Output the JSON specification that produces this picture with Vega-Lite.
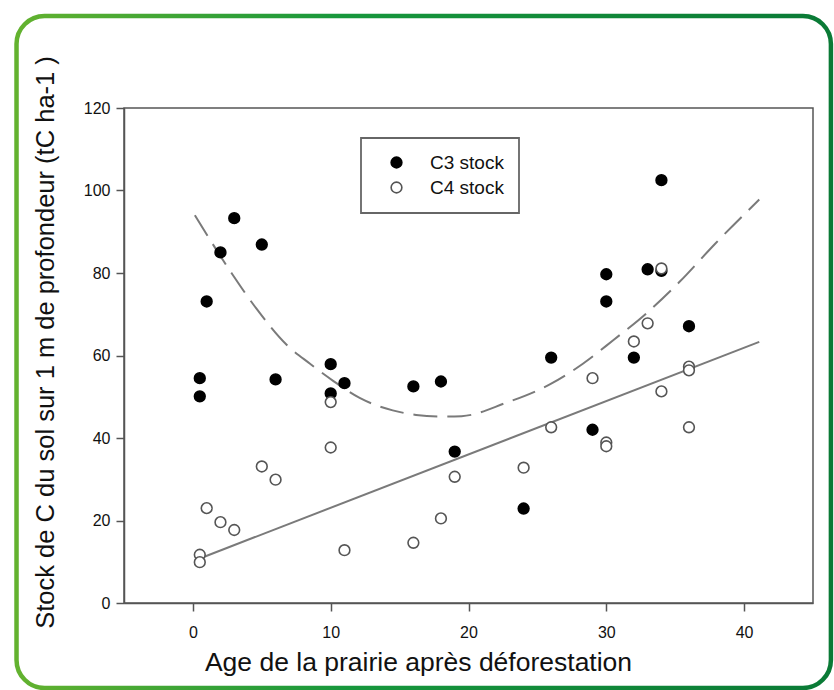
{
  "$schema": "https://vega.github.io/schema/vega-lite/v6.json",
  "width": 689,
  "height": 495,
  "autosize": "none",
  "padding": {"left": 124, "top": 108, "right": 21, "bottom": 87},
  "background": "white",
  "datasets": {
    "stocks": [
      {"age": 0.5, "stock": 54.5, "type": "C3 stock"},
      {"age": 0.5, "stock": 50.1, "type": "C3 stock"},
      {"age": 1, "stock": 73.1, "type": "C3 stock"},
      {"age": 2, "stock": 85.0, "type": "C3 stock"},
      {"age": 3, "stock": 93.3, "type": "C3 stock"},
      {"age": 5, "stock": 86.9, "type": "C3 stock"},
      {"age": 6, "stock": 54.2, "type": "C3 stock"},
      {"age": 10, "stock": 57.9, "type": "C3 stock"},
      {"age": 10, "stock": 50.8, "type": "C3 stock"},
      {"age": 11, "stock": 53.3, "type": "C3 stock"},
      {"age": 16, "stock": 52.5, "type": "C3 stock"},
      {"age": 18, "stock": 53.7, "type": "C3 stock"},
      {"age": 19, "stock": 36.7, "type": "C3 stock"},
      {"age": 24, "stock": 22.9, "type": "C3 stock"},
      {"age": 26, "stock": 59.5, "type": "C3 stock"},
      {"age": 29, "stock": 42.0, "type": "C3 stock"},
      {"age": 30, "stock": 79.7, "type": "C3 stock"},
      {"age": 30, "stock": 73.1, "type": "C3 stock"},
      {"age": 32, "stock": 59.5, "type": "C3 stock"},
      {"age": 33, "stock": 80.9, "type": "C3 stock"},
      {"age": 34, "stock": 102.5, "type": "C3 stock"},
      {"age": 34, "stock": 80.5, "type": "C3 stock"},
      {"age": 36, "stock": 67.1, "type": "C3 stock"},
      {"age": 0.5, "stock": 11.7, "type": "C4 stock"},
      {"age": 0.5, "stock": 9.9, "type": "C4 stock"},
      {"age": 1, "stock": 23.0, "type": "C4 stock"},
      {"age": 2, "stock": 19.6, "type": "C4 stock"},
      {"age": 3, "stock": 17.7, "type": "C4 stock"},
      {"age": 5, "stock": 33.1, "type": "C4 stock"},
      {"age": 6, "stock": 29.9, "type": "C4 stock"},
      {"age": 10, "stock": 48.7, "type": "C4 stock"},
      {"age": 10, "stock": 37.7, "type": "C4 stock"},
      {"age": 11, "stock": 12.8, "type": "C4 stock"},
      {"age": 16, "stock": 14.6, "type": "C4 stock"},
      {"age": 18, "stock": 20.5, "type": "C4 stock"},
      {"age": 19, "stock": 30.6, "type": "C4 stock"},
      {"age": 24, "stock": 32.8, "type": "C4 stock"},
      {"age": 26, "stock": 42.6, "type": "C4 stock"},
      {"age": 29, "stock": 54.5, "type": "C4 stock"},
      {"age": 30, "stock": 38.9, "type": "C4 stock"},
      {"age": 30, "stock": 38.0, "type": "C4 stock"},
      {"age": 32, "stock": 63.4, "type": "C4 stock"},
      {"age": 33, "stock": 67.8, "type": "C4 stock"},
      {"age": 34, "stock": 81.1, "type": "C4 stock"},
      {"age": 34, "stock": 51.3, "type": "C4 stock"},
      {"age": 36, "stock": 57.3, "type": "C4 stock"},
      {"age": 36, "stock": 56.4, "type": "C4 stock"},
      {"age": 36, "stock": 42.6, "type": "C4 stock"}
    ],
    "trends": [
      {"age": 0.14, "stock": 94.0, "series": "C3"},
      {"age": 2.8, "stock": 80.0, "series": "C3"},
      {"age": 4.6, "stock": 71.4, "series": "C3"},
      {"age": 6.8, "stock": 62.6, "series": "C3"},
      {"age": 8.5, "stock": 58.0, "series": "C3"},
      {"age": 10.2, "stock": 53.8, "series": "C3"},
      {"age": 12.1, "stock": 49.7, "series": "C3"},
      {"age": 14.5, "stock": 46.7, "series": "C3"},
      {"age": 16.2, "stock": 45.6, "series": "C3"},
      {"age": 18.0, "stock": 45.2, "series": "C3"},
      {"age": 19.5, "stock": 45.3, "series": "C3"},
      {"age": 22.7, "stock": 48.5, "series": "C3"},
      {"age": 25.9, "stock": 53.0, "series": "C3"},
      {"age": 28.3, "stock": 58.0, "series": "C3"},
      {"age": 30.5, "stock": 63.7, "series": "C3"},
      {"age": 32.9, "stock": 70.2, "series": "C3"},
      {"age": 35.3, "stock": 77.8, "series": "C3"},
      {"age": 37.9, "stock": 87.1, "series": "C3"},
      {"age": 41.1, "stock": 97.8, "series": "C3"},
      {"age": 0.5, "stock": 10.8, "series": "C4"},
      {"age": 41.1, "stock": 63.3, "series": "C4"}
    ]
  },
  "layer": [
    {
      "description": "Rounded green border around the whole figure",
      "data": {"values": [{}]},
      "mark": {
        "type": "rect",
        "fill": null,
        "strokeWidth": 4.5,
        "cornerRadius": 28,
        "stroke": {
          "gradient": "linear",
          "x1": 0, "y1": 0, "x2": 1, "y2": 0,
          "stops": [
            {"offset": 0, "color": "#63b22f"},
            {"offset": 0.4, "color": "#17973c"},
            {"offset": 1, "color": "#0a7a36"}
          ]
        }
      },
      "encoding": {
        "x": {"datum": -12.8, "type": "quantitative"},
        "x2": {"datum": 46.3},
        "y": {"datum": 142.3, "type": "quantitative"},
        "y2": {"datum": -20.6}
      }
    },
    {
      "data": {"name": "trends"},
      "transform": [{"filter": "datum.series === 'C3'"}],
      "mark": {"type": "line", "interpolate": "monotone", "stroke": "#7a7a7a", "strokeWidth": 2, "strokeDash": [24, 10]},
      "encoding": {
        "x": {"field": "age", "type": "quantitative"},
        "y": {"field": "stock", "type": "quantitative"}
      }
    },
    {
      "data": {"name": "trends"},
      "transform": [{"filter": "datum.series === 'C4'"}],
      "mark": {"type": "line", "stroke": "#7a7a7a", "strokeWidth": 2},
      "encoding": {
        "x": {"field": "age", "type": "quantitative"},
        "y": {"field": "stock", "type": "quantitative"}
      }
    },
    {
      "data": {"name": "stocks"},
      "mark": {"type": "point", "shape": "circle", "size": 115, "strokeWidth": 1.6, "opacity": 1},
      "encoding": {
        "x": {
          "field": "age", "type": "quantitative",
          "scale": {"domain": [-5, 45], "nice": false, "zero": false},
          "axis": {
            "title": "Age de la prairie après déforestation",
            "values": [0, 10, 20, 30, 40],
            "titleX": 294, "titleY": 67, "titleBaseline": "alphabetic",
            "titleFontSize": 26.5, "labelPadding": 13
          }
        },
        "y": {
          "field": "stock", "type": "quantitative",
          "scale": {"domain": [0, 120], "nice": false},
          "axis": {
            "title": "Stock de C du sol sur 1 m de profondeur (tC ha-1 )",
            "values": [0, 20, 40, 60, 80, 100, 120],
            "titleX": -79, "titleY": 234, "titleBaseline": "middle", "titleAngle": -90,
            "titleFontSize": 25.5, "labelPadding": 6
          }
        },
        "fill": {
          "field": "type", "type": "nominal",
          "scale": {"domain": ["C3 stock", "C4 stock"], "range": ["#000000", "#ffffff"]},
          "legend": {
            "title": null,
            "orient": "none",
            "legendX": 237,
            "legendY": 30,
            "padding": 15,
            "symbolOffset": 11,
            "labelOffset": 24,
            "rowPadding": 5,
            "strokeColor": "#666666",
            "fillColor": "white",
            "labelFontSize": 19,
            "symbolSize": 115,
            "symbolStrokeWidth": 1.6
          }
        },
        "stroke": {
          "field": "type", "type": "nominal",
          "scale": {"domain": ["C3 stock", "C4 stock"], "range": ["#000000", "#555555"]},
          "legend": null
        }
      }
    }
  ],
  "config": {
    "font": "Liberation Sans",
    "view": {"stroke": "#555555", "strokeWidth": 1.5},
    "axis": {
      "grid": false,
      "domainColor": "#555555",
      "domainWidth": 1.5,
      "tickColor": "#555555",
      "tickWidth": 1.5,
      "tickSize": 8,
      "labelFontSize": 16,
      "labelColor": "#111111",
      "labelFont": "Liberation Sans",
      "titleFont": "Liberation Sans",
      "titleColor": "#111111",
      "titleFontWeight": "normal"
    },
    "legend": {"labelFont": "Liberation Sans", "labelColor": "#111111", "strokeWidth": 1.8}
  }
}
